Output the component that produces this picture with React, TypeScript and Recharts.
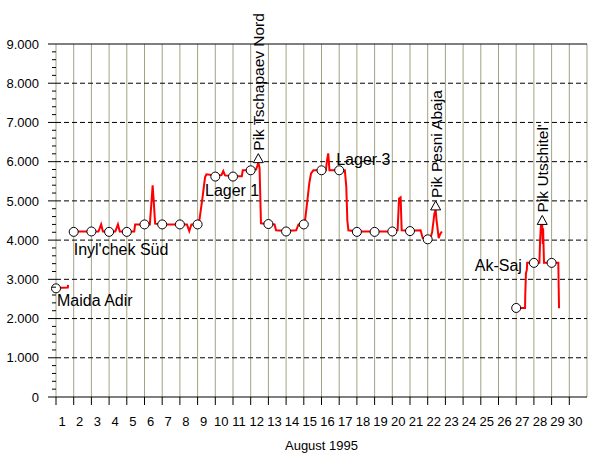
import { ComposedChart, Line, Scatter, XAxis, YAxis, CartesianGrid, ReferenceLine } from 'recharts';

const FONT = '"Liberation Sans", Arial, sans-serif';
const GRID_OLIVE = '#a3a383';

// Höhenprofil (Tag, Höhe in m); null = Lücke in der Linie
const profileDay = [
  1, 1.67, 1.68, 1.69,
  2, 3.4, 3.55, 3.65, 4, 4.35, 4.5, 4.6, 5, 5.42, 5.47, 6, 6.3, 6.4, 6.46, 6.52, 6.6, 7, 8, 8.4, 8.53, 8.65, 9,
  9.1, 9.27, 9.42, 9.5, 10, 10.35, 10.45, 10.55, 11, 11.5, 11.55, 12, 12.3, 12.38, 12.43, 12.5, 12.58, 13,
  13.35, 13.43, 14, 14.57, 14.7, 15, 15.07, 15.2, 15.31, 15.41, 15.54, 16, 16.25, 16.3, 16.38, 16.45, 17,
  17.32, 17.4, 17.46, 17.52, 18, 19, 20, 20.3, 20.38, 20.47, 20.53, 21, 21.6, 21.72, 22, 22.15, 22.25, 22.38,
  22.45, 22.5, 22.57, 22.62, 22.7, 22.8, 22.81,
  27, 27.5, 27.51, 27.55, 27.6, 27.62, 28, 28.31, 28.35, 28.4, 28.47, 28.5, 28.52, 28.57, 29, 29.38, 29.4, 29.42,
];
const profileAlt = [
  2780, 2790, 2860, null,
  4220, 4220, 4400, 4220, 4220, 4220, 4400, 4220, 4220, 4220, 4400, 4400, 4400, 5000, 5400, 5000, 4420, 4400, 4400, 4400, 4230, 4400, 4400,
  4500, 5060, 5600, 5680, 5650, 5660, 5760, 5650, 5630, 5630, 5780, 5780, 5800, 5900, 5975, 5850, 4430, 4410,
  4400, 4250, 4230, 4250, 4400, 4400, 4500, 5000, 5450, 5700, 5780, 5780, 5780, 6000, 6210, 5780, 5780,
  5780, 5360, 4500, 4250, 4220, 4220, 4220, 4250, 5060, 5090, 4250, 4240, 4250, 4050, 4020, 4050, 4200, 4680,
  4770, 4500, 4250, 4050, 4150, 4220, null,
  2270, 2270, 2560, 3150, 3240, 3420, 3420, 3420, 4000, 4400, 4400, 3900, 4300, 3420, 3420, 3420, 2800, 2260,
];

// Lager / Übernachtungen
const campDay = [1, 2, 3, 4, 5, 6, 7, 8, 9, 10, 11, 12, 13, 14, 15, 16, 17, 18, 19, 20, 21, 22, 27, 28, 29];
const campAlt = [2770, 4210, 4220, 4210, 4210, 4400, 4400, 4400, 4400, 5620, 5620, 5780, 4410, 4220, 4400, 5780, 5780, 4210, 4210, 4220, 4230, 4020, 2270, 3420, 3420];
const campName = ['Maida Adir', "Inyl'chek Süd", '', '', '', '', '', '', '', '', 'Lager 1', '', '', '', '', '', 'Lager 3', '', '', '', '', '', '', 'Ak-Saj', ''];

// Gipfel
const peakDay = [12.43, 22.45, 28.47];
const peakAlt = [5975, 4770, 4400];
const peakName = ['Pik Tschapaev Nord', 'Pik Pesni Abaja', "Pik Utschitel'"];

const days = Array.from({ length: 30 }, (_, i) => i + 1);
const gridDays = Array.from({ length: 31 }, (_, i) => i + 1);
const yTicks = Array.from({ length: 46 }, (_, i) => i * 200);
const yGrid = [1000, 2000, 3000, 4000, 5000, 6000, 7000, 8000];

const profile = profileDay.map((d, i) => ({ day: d, alt: profileAlt[i] }));
const camps = campDay.map((d, i) => ({ day: d, alt: campAlt[i], name: campName[i] }));
const peaks = peakDay.map((d, i) => ({ day: d, alt: peakAlt[i], name: peakName[i] }));

// Beschriftungs-Versatz (px) relativ zum Punkt
const labelPos: Record<string, { dx: number; dy: number; anchor: string }> = {
  'Maida Adir': { dx: 1, dy: 18, anchor: 'start' },
  "Inyl'chek Süd": { dx: 0, dy: 23, anchor: 'start' },
  'Lager 1': { dx: -28, dy: 19, anchor: 'start' },
  'Lager 3': { dx: -3, dy: -5, anchor: 'start' },
  'Ak-Saj': { dx: -12, dy: 8, anchor: 'end' },
};

const fmt = (v: number) => (v === 0 ? '0' : v.toLocaleString('de-DE'));

function YTick(props: any) {
  const { y, payload } = props;
  const v = payload.value;
  const major = v % 1000 === 0;
  return (
    <g>
      <line x1={major ? 48 : 52} x2={56} y1={y} y2={y} stroke="#000" />
      {major && (
        <text x={39} y={y} dy="0.36em" textAnchor="end" fontSize={13} fontFamily={FONT} fill="#000">
          {fmt(v)}
        </text>
      )}
    </g>
  );
}

function XTick(props: any) {
  const { x, payload } = props;
  return (
    <g>
      <line x1={x} x2={x} y1={397} y2={405} stroke="#000" />
      <text x={x + 6} y={426} textAnchor="middle" fontSize={13} fontFamily={FONT} fill="#000">
        {payload.value}
      </text>
    </g>
  );
}

function CampShape(props: any) {
  const { cx, cy, payload } = props;
  const lp = labelPos[payload.name];
  return (
    <g>
      <circle cx={cx} cy={cy} r={4.5} fill="#fff" stroke="#000" strokeWidth={1} />
      {lp && (
        <text x={cx + lp.dx} y={cy + lp.dy} textAnchor={lp.anchor} fontSize={16} fontFamily={FONT} fill="#000">
          {payload.name}
        </text>
      )}
    </g>
  );
}

function PeakShape(props: any) {
  const { cx, cy, payload } = props;
  const tx = cx + 6;
  const ty = cy - 12;
  return (
    <g>
      <polygon points={`${cx - 5},${cy} ${cx + 5},${cy} ${cx},${cy - 9}`} fill="#fff" stroke="#000" strokeWidth={1} />
      <text x={tx} y={ty} transform={`rotate(-90 ${tx} ${ty})`} fontSize={15.5} fontFamily={FONT} fill="#000">
        {payload.name}
      </text>
    </g>
  );
}

export default function App() {
  return (
    <div style={{ position: 'absolute', left: 0, top: 0, background: '#fff' }}>
      <ComposedChart width={592} height={457} margin={{ top: 44, right: 5, bottom: 0, left: 0 }} style={{ fontFamily: FONT }}>
        <CartesianGrid horizontal={false} stroke={GRID_OLIVE} verticalValues={gridDays} />
        <CartesianGrid vertical={false} stroke="#000" strokeDasharray="5 3" horizontalValues={yGrid} />
        <XAxis
          type="number"
          dataKey="day"
          domain={[1, 31]}
          ticks={days}
          interval={0}
          height={60}
          axisLine={{ stroke: '#000' }}
          tickLine={false}
          tick={<XTick />}
          label={{ value: 'August 1995', position: 'insideBottom', offset: 7, fontSize: 13, fill: '#000' }}
        />
        <YAxis
          type="number"
          dataKey="alt"
          domain={[0, 9000]}
          ticks={yTicks}
          interval={0}
          width={56}
          axisLine={false}
          tickLine={false}
          tick={<YTick />}
        />
        <ReferenceLine y={9000} stroke="#000" />
        <Line
          data={profile}
          dataKey="alt"
          type="linear"
          stroke="#ff0000"
          strokeWidth={2}
          dot={false}
          connectNulls={false}
          isAnimationActive={false}
        />
        <Scatter data={camps} dataKey="alt" shape={<CampShape />} isAnimationActive={false} />
        <Scatter data={peaks} dataKey="alt" shape={<PeakShape />} isAnimationActive={false} />
      </ComposedChart>
    </div>
  );
}
